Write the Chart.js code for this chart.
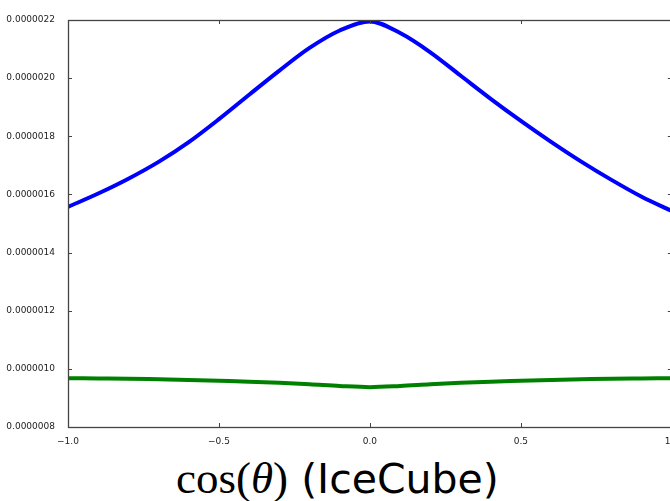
<!DOCTYPE html>
<html>
<head>
<meta charset="utf-8">
<script src="https://cdn.jsdelivr.net/npm/chart.js@4/dist/chart.umd.min.js"></script>
<style>
  body { margin: 0; background: #fff; overflow: hidden; }
  #wrap { position: relative; width: 680px; height: 501px; }
  #box { position: absolute; left: 0; top: 0; width: 680px; height: 447px; }
  #xlabel { position: absolute; left: 176px; top: 453px; white-space: nowrap; color: #000; line-height: 50px; }
  .m { font-family: "Liberation Serif", serif; font-size: 45px; }
  .s { font-family: "DejaVu Sans", sans-serif; font-size: 41px; }
</style>
</head>
<body>
<div id="wrap">
  <div id="box"><canvas id="chart1"></canvas></div>
  <div id="xlabel"><span class="m">cos(<i>θ</i>)</span><span class="s"> (IceCube)</span></div>
</div>
<script>
// cos(theta) samples
const cosTheta = [-1.0, -0.9, -0.8, -0.7, -0.6, -0.5, -0.4, -0.3, -0.2, -0.1, 0.0,
                  0.1, 0.2, 0.3, 0.4, 0.5, 0.6, 0.7, 0.8, 0.9, 1.0]

const fluxBlue = [1.557e-6, 1.603e-6, 1.654e-6, 1.712e-6, 1.780e-6, 1.859e-6, 1.943e-6,
                  2.026e-6, 2.104e-6, 2.164e-6, 2.195e-6, 2.155e-6, 2.089e-6, 2.009e-6,
                  1.929e-6, 1.853e-6, 1.781e-6, 1.713e-6, 1.650e-6, 1.592e-6, 1.543e-6]

const fluxGreen = [0.968e-6, 0.967e-6, 0.966e-6, 0.964e-6, 0.962e-6, 0.959e-6, 0.956e-6,
                   0.952e-6, 0.947e-6, 0.941e-6, 0.937e-6, 0.941e-6, 0.947e-6, 0.952e-6,
                   0.956e-6, 0.959e-6, 0.962e-6, 0.964e-6, 0.966e-6, 0.967e-6, 0.968e-6]

const xTickValues = [-1.0, -0.5, 0.0, 0.5, 1.0]
const xTickLabels = ['\u22121.0', '\u22120.5', '0.0', '0.5', '1.0']
const yTickValues = [0.8e-6, 1.0e-6, 1.2e-6, 1.4e-6, 1.6e-6, 1.8e-6, 2.0e-6, 2.2e-6]

// frame + inward ticks, matplotlib style
const frameTicks = {
    id: 'frameTicks',
    afterDraw(chart) {
        const { ctx, chartArea: a, scales } = chart
        ctx.save()
        ctx.strokeStyle = '#444'
        ctx.lineWidth = 1
        ctx.beginPath()
        scales.x.ticks.forEach(t => {
            const px = Math.round(scales.x.getPixelForValue(t.value)) + 0.5
            ctx.moveTo(px, a.bottom); ctx.lineTo(px, a.bottom - 4)
            ctx.moveTo(px, a.top); ctx.lineTo(px, a.top + 4)
        })
        scales.y.ticks.forEach(t => {
            const py = Math.round(scales.y.getPixelForValue(t.value)) + 0.5
            ctx.moveTo(a.left, py); ctx.lineTo(a.left + 4, py)
            ctx.moveTo(a.right, py); ctx.lineTo(a.right - 4, py)
        })
        ctx.stroke()
        ctx.lineWidth = 1.3
        ctx.strokeRect(Math.round(a.left) + 0.5, Math.round(a.top) + 0.5,
                       Math.round(a.right - a.left), Math.round(a.bottom - a.top))
        ctx.restore()
    }
}

const data = {
    datasets: [{
        data: cosTheta.map((x, i) => ({ x, y: fluxBlue[i] })),
        borderColor: '#0000ff',
        borderWidth: 4,
        pointRadius: 0,
        cubicInterpolationMode: 'monotone'
    }, {
        data: cosTheta.map((x, i) => ({ x, y: fluxGreen[i] })),
        borderColor: '#008000',
        borderWidth: 4,
        pointRadius: 0,
        cubicInterpolationMode: 'monotone'
    }]
}

let options = {
    responsive: true,
    maintainAspectRatio: false,
    animation: false,
    layout: { padding: { left: 0, top: 20, right: 8, bottom: 0 } },
    plugins: {
        legend: { display: false },
        tooltip: { enabled: false }
    },
    scales: {
        x: {
            type: 'linear',
            min: -1,
            max: 1,
            grid: { display: false },
            border: { display: false },
            afterBuildTicks: s => { s.ticks = xTickValues.map(v => ({ value: v })) },
            afterFit: s => { s.height = 20 },
            ticks: {
                padding: 1,
                maxRotation: 0,
                color: '#222',
                font: { family: 'DejaVu Sans', size: 9 },
                callback: (v) => xTickLabels[xTickValues.indexOf(v)]
            }
        },
        y: {
            min: 0.8e-6,
            max: 2.2e-6,
            grid: { display: false },
            border: { display: false },
            afterBuildTicks: s => { s.ticks = yTickValues.map(v => ({ value: v })) },
            afterFit: s => { s.width = 68 },
            ticks: {
                padding: 5,
                color: '#222',
                font: { family: 'DejaVu Sans', size: 9 },
                callback: (v) => v.toFixed(7)
            }
        }
    }
}

new Chart('chart1', { type: 'line', data, options, plugins: [frameTicks] })
</script>
</body>
</html>
